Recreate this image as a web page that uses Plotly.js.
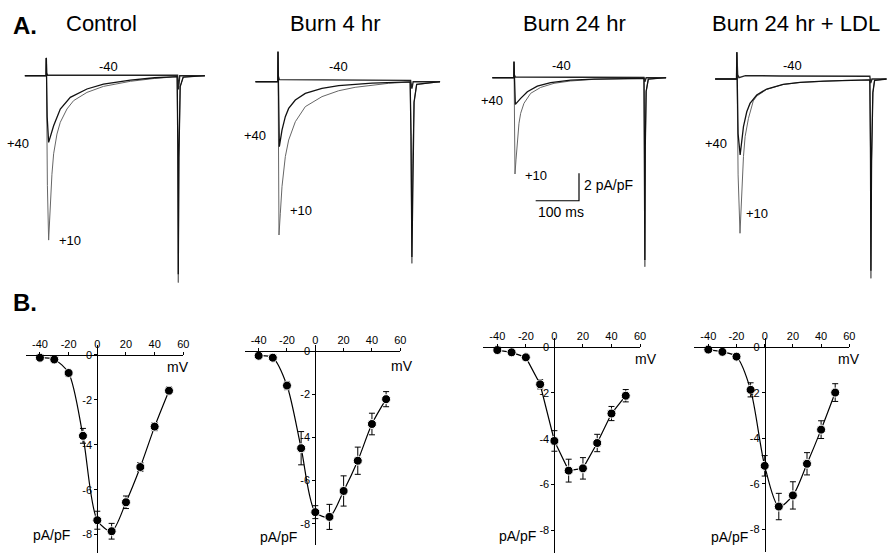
<!DOCTYPE html>
<html>
<head>
<meta charset="utf-8">
<script src="https://cdn.plot.ly/plotly-3.0.1.min.js"></script>
<style>
html,body{margin:0;padding:0;background:#fff;}
#chart{width:888px;height:555px;}
</style>
</head>
<body>
<div id="chart"></div>
<script>
// ---------------- DATA ----------------
// Panel B: I-V relationships (test potential mV vs current density pA/pF)
const voltages = [-40, -30, -20, -10, 0, 10, 20, 30, 40, 50];
const controlI   = [-0.12, -0.2, -0.8, -3.6, -7.36, -7.85, -6.56, -4.99, -3.19, -1.59];
const controlErr = [0, 0, 0.05, 0.33, 0.4, 0.35, 0.28, 0.2, 0.18, 0.17];
const burn4I     = [-0.22, -0.31, -1.6, -4.5, -7.46, -7.68, -6.48, -5.08, -3.38, -2.23];
const burn4Err   = [0, 0, 0.19, 0.77, 0.3, 0.58, 0.7, 0.63, 0.5, 0.35];
const burn24I    = [-0.12, -0.22, -0.44, -1.62, -4.1, -5.4, -5.3, -4.19, -2.9, -2.12];
const burn24Err  = [0, 0, 0.05, 0.2, 0.45, 0.5, 0.47, 0.38, 0.31, 0.27];
const ldlI       = [-0.1, -0.2, -0.41, -1.87, -5.21, -7.0, -6.51, -5.12, -3.62, -1.99];
const ldlErr     = [0, 0, 0.05, 0.31, 0.45, 0.58, 0.6, 0.49, 0.39, 0.39];

const xTickVals = [-40, -20, 0, 20, 40, 60];
const yTickVals = [0, -2, -4, -6, -8];

const panelTitles = ["Control", "Burn 4 hr", "Burn 24 hr", "Burn 24 hr + LDL"];
const traceLabels = ["-40", "+40", "+10"];

// Panel A: current traces (time ms, current pA/pF)
// Control
const ctrlM40T = [-50, -0.5, 0, 0.8, 3, 50, 150, 250, 303, 305, 308, 366];
const ctrlM40I = [0, 0, 1.3, 0.2, 0.03, 0.03, 0.04, 0.04, 0.03, -1.0, 0, 0];
const ctrlP40T = [-50, -0.5, 0, 0.8, 2, 5.4, 16.9, 32.3, 55.4, 93.8, 132, 194, 250, 302, 303.5, 304.6, 306, 309, 316, 366];
const ctrlP40I = [0, 0, 1.3, 0, -3, -4.87, -3.65, -2.43, -1.58, -0.97, -0.61, -0.32, -0.15, -0.07, -5, -14.5, -6, -0.8, -0.1, 0];
const ctrlP10T = [-50, -0.5, 0, 0.8, 2.5, 5.4, 9.2, 13, 16.9, 24.6, 32.3, 47.7, 63, 93.8, 132, 194, 250, 302, 303.5, 304.6, 306, 309, 316, 366];
const ctrlP10I = [0, 0, 1.3, -2, -8, -12.0, -9.1, -7.2, -5.7, -4.26, -3.4, -2.43, -1.82, -1.22, -0.78, -0.41, -0.2, -0.07, -5, -15.1, -6, -0.8, -0.1, 0];
// Burn 4 hr
const b4M40T = [-52, -0.5, 0, 0.8, 3, 50, 150, 250, 306, 309, 312, 374];
const b4M40I = [0, 0, 2.19, 0.4, 0.15, 0.15, 0.15, 0.12, 0.1, -0.5, 0, 0];
const b4P40T = [-52, -0.5, 0, 0.8, 2, 3.1, 9.2, 16.9, 24.6, 40, 63, 101.5, 140, 178, 217, 305, 307, 309, 311, 314, 320, 374];
const b4P40I = [0, 0, 2.19, 0, -3, -4.74, -3.53, -2.55, -1.95, -1.34, -0.85, -0.49, -0.29, -0.17, -0.1, -0.02, -4, -12.8, -6, -1.5, -0.2, 0];
const b4P10T = [-52, -0.5, 0, 0.8, 2.3, 5.4, 9.2, 16.9, 24.6, 40, 63, 101.5, 140, 178, 217, 255, 305, 307, 309, 311, 314, 320, 374];
const b4P10I = [0, 0, 2.19, -3, -11.19, -9.6, -7.66, -5.47, -4.26, -2.92, -1.82, -1.09, -0.66, -0.41, -0.24, -0.12, -0.02, -4, -13.26, -6, -1.5, -0.2, 0];
// Burn 24 hr
const b24M40T = [-50, -0.5, 0, 0.8, 3, 100, 200, 300, 302, 305, 351];
const b24M40I = [0, 0, 1.17, 0.2, 0.05, 0.03, 0.02, 0.02, -0.3, 0, 0];
const b24P40T = [-50, -0.5, 0, 0.8, 3.1, 15.4, 30.8, 53.8, 84.6, 130.7, 184.6, 300, 301, 302, 303, 305, 310, 351];
const b24P40I = [0, 0, 1.17, -0.5, -1.95, -1.51, -1.02, -0.61, -0.36, -0.17, -0.1, -0.05, -4, -13.3, -5, -1, -0.1, 0];
const b24P10T = [-50, -0.5, 0, 0.8, 2.3, 4.6, 7.7, 11.5, 15.4, 23, 38.5, 61.5, 92.3, 130.7, 184.6, 300, 301, 302, 303, 305, 310, 351];
const b24P10I = [0, 0, 1.17, -3, -7.03, -6.0, -4.55, -3.33, -2.6, -1.87, -1.14, -0.71, -0.41, -0.24, -0.12, -0.05, -4, -13.8, -5, -1, -0.1, 0];
// Burn 24 hr + LDL
const ldlM40T = [-50, -0.5, 0, 0.8, 2, 5, 20, 100, 200, 307, 309, 312, 346];
const ldlM40I = [0, 0, 1.95, 0.6, 0.3, 0.1, 0.25, 0.22, 0.2, 0.2, -0.3, 0, 0];
const ldlP40T = [-50, -0.5, 0, 0.8, 3, 7.7, 15.4, 23, 30.5, 46, 69, 107, 146, 200, 250, 307, 308.5, 309.5, 311, 314, 318, 346];
const ldlP40I = [0, 0, 1.95, -1, -4, -5.55, -3.48, -2.39, -1.78, -1.17, -0.73, -0.39, -0.24, -0.15, -0.1, -0.07, -5, -14.0, -6, -1, -0.1, 0];
const ldlP10T = [-50, -0.5, 0, 0.8, 3, 7.4, 11.3, 15.4, 19.2, 26.9, 38, 46, 69, 107, 146, 200, 250, 307, 308.5, 309.5, 311, 314, 318, 346];
const ldlP10I = [0, 0, 1.95, -2, -7, -11.26, -8.1, -5.67, -4.2, -2.87, -1.6, -1.25, -0.76, -0.4, -0.25, -0.15, -0.1, -0.07, -5, -14.55, -6, -1, -0.1, 0];

// Scale bar sizes
const scaleMs = 100;
const scalePA = 2;

// ---------------- LAYOUT GEOMETRY ----------------
const W = 888, H = 555;
const FONT = "Liberation Sans, Arial, Helvetica, sans-serif";
const pxPerMs = 0.4333, pxPerPA = 13.7;

const aGeom = [
  {step: 46.3, base: 75.7, t: [-50, 368], i: [-16, 3]},
  {step: 278,  base: 81.7, t: [-55, 378], i: [-16, 3]},
  {step: 514,  base: 77.7, t: [-55, 355], i: [-16, 3]},
  {step: 736.8, base: 79,  t: [-55, 346], i: [-16, 3]}
];
const bGeom = [
  {x0: 97.3,  sx: 1.434, y0: 355,   sy: 22.45, yr: [-8.8, 0.45]},
  {x0: 315.3, sx: 1.416, y0: 351,   sy: 21.6,  yr: [-9.0, 0.3]},
  {x0: 554.4, sx: 1.427, y0: 347.3, sy: 22.84, yr: [-9.0, 0.4]},
  {x0: 764.7, sx: 1.41,  y0: 347.3, sy: 22.75, yr: [-9.0, 0.4]}
];
const bXRange = [-50, 60];

const layout = {
  width: W, height: H,
  margin: {l: 0, r: 0, t: 0, b: 0},
  paper_bgcolor: "#fff", plot_bgcolor: "rgba(0,0,0,0)",
  showlegend: false,
  font: {family: FONT, color: "#000"},
  annotations: [], shapes: []
};

const traces = [];
const aData = [
  [[ctrlM40T, ctrlM40I], [ctrlP40T, ctrlP40I], [ctrlP10T, ctrlP10I]],
  [[b4M40T, b4M40I], [b4P40T, b4P40I], [b4P10T, b4P10I]],
  [[b24M40T, b24M40I], [b24P40T, b24P40I], [b24P10T, b24P10I]],
  [[ldlM40T, ldlM40I], [ldlP40T, ldlP40I], [ldlP10T, ldlP10I]]
];
const bData = [
  [controlI, controlErr], [burn4I, burn4Err], [burn24I, burn24Err], [ldlI, ldlErr]
];
const bSmooth = [true, true, false, true];

function fx(px) { return px / W; }
function fy(py) { return 1 - py / H; }

for (let p = 0; p < 4; p++) {
  const g = aGeom[p];
  const ax = p + 1, ay = p + 1;
  const xl = g.step + g.t[0] * pxPerMs, xr = g.step + g.t[1] * pxPerMs;
  const yt = g.base - g.i[1] * pxPerPA, yb = g.base - g.i[0] * pxPerPA;
  layout["xaxis" + ax] = {domain: [fx(xl), Math.min(1, fx(xr))], range: g.t, visible: false, anchor: "y" + ay};
  layout["yaxis" + ay] = {domain: [fy(yb), fy(yt)], range: g.i, visible: false, anchor: "x" + ax};
  const d = aData[p];
  traces.push({x: d[0][0], y: d[0][1], xaxis: "x" + ax, yaxis: "y" + ay, mode: "lines",
    line: {color: "#222", width: 1.4}, hoverinfo: "skip"});
  traces.push({x: d[2][0], y: d[2][1], xaxis: "x" + ax, yaxis: "y" + ay, mode: "lines",
    line: {color: "#666", width: 1}, hoverinfo: "skip"});
  traces.push({x: d[1][0], y: d[1][1], xaxis: "x" + ax, yaxis: "y" + ay, mode: "lines",
    line: {color: "#111", width: 1.3}, hoverinfo: "skip"});

  const b = bGeom[p];
  const bx = p + 5, by = p + 5;
  const bxl = b.x0 + bXRange[0] * b.sx, bxr = b.x0 + bXRange[1] * b.sx;
  const byt = b.y0 - b.yr[1] * b.sy, byb = b.y0 - b.yr[0] * b.sy;
  layout["xaxis" + bx] = {
    domain: [fx(bxl), fx(bxr)], range: bXRange, anchor: "free", position: fy(b.y0), side: "top",
    showline: true, linecolor: "#000", linewidth: 1, ticks: "outside", ticklen: 3, tickcolor: "#000",
    tickvals: xTickVals, ticktext: xTickVals.map(String), tickfont: {size: 11, family: FONT},
    showgrid: false, zeroline: false, fixedrange: true
  };
  layout["yaxis" + by] = {
    domain: [fy(byb), fy(byt)], range: b.yr, anchor: "free", position: fx(b.x0), side: "left",
    showline: true, linecolor: "#000", linewidth: 1, ticks: "outside", ticklen: 3, tickcolor: "#000",
    tickvals: yTickVals, ticktext: yTickVals.map(String), tickfont: {size: 11, family: FONT},
    showgrid: false, zeroline: false, fixedrange: true
  };
  traces.push({x: voltages, y: bData[p][0], xaxis: "x" + bx, yaxis: "y" + by, mode: "lines",
    line: {color: "#000", width: 1.2, shape: bSmooth[p] ? "spline" : "linear", smoothing: 0.8},
    hoverinfo: "skip", cliponaxis: false});
  traces.push({x: voltages, y: bData[p][0], xaxis: "x" + bx, yaxis: "y" + by, mode: "markers",
    marker: {color: "#000", size: 9, line: {color: "#fff", width: 1}},
    error_y: {type: "data", array: bData[p][1], visible: true, color: "#000", thickness: 1, width: 3},
    cliponaxis: false});

  const titleX = [101.7, 335.3, 574, 796][p];
  layout.annotations.push({text: panelTitles[p], xref: "paper", yref: "paper", x: fx(titleX), y: fy(23.3),
    xanchor: "center", yanchor: "middle", showarrow: false, font: {size: 22, family: FONT, color: "#000"}});

  const mvPos = [[178.3, 367.3], [402, 366], [645.7, 359.3], [848.7, 359.3]][p];
  const paPos = [[51.7, 535], [278.7, 536.7], [517.3, 536], [729.3, 536.7]][p];
  layout.annotations.push({text: "mV", xref: "paper", yref: "paper", x: fx(mvPos[0]), y: fy(mvPos[1]),
    xanchor: "center", yanchor: "middle", showarrow: false, font: {size: 14, family: FONT, color: "#000"}});
  layout.annotations.push({text: "pA/pF", xref: "paper", yref: "paper", x: fx(paPos[0]), y: fy(paPos[1]),
    xanchor: "center", yanchor: "middle", showarrow: false, font: {size: 14, family: FONT, color: "#000"}});

  const lab = [
    [[108, 66.7], [18.3, 143.3], [70, 240]],
    [[338, 66], [255.3, 136], [301.3, 210]],
    [[561.3, 65.7], [492.3, 100.7], [535.7, 175]],
    [[792, 65.7], [716, 143.3], [757, 213.3]]
  ][p];
  for (let k = 0; k < 3; k++) {
    layout.annotations.push({text: traceLabels[k], xref: "paper", yref: "paper", x: fx(lab[k][0]), y: fy(lab[k][1]),
      xanchor: "center", yanchor: "middle", showarrow: false, font: {size: 13, family: FONT, color: "#000"}});
  }
}

const sbT = 150, sbI = -8.98;
traces.push({x: [sbT - scaleMs, sbT, sbT], y: [sbI, sbI, sbI + scalePA], xaxis: "x3", yaxis: "y3",
  mode: "lines", line: {color: "#000", width: 1.2}, hoverinfo: "skip"});
layout.annotations.push({text: scalePA + " pA/pF", xref: "paper", yref: "paper", x: fx(608), y: fy(185),
  xanchor: "center", yanchor: "middle", showarrow: false, font: {size: 14, family: FONT, color: "#000"}});
layout.annotations.push({text: scaleMs + " ms", xref: "paper", yref: "paper", x: fx(560.7), y: fy(211.7),
  xanchor: "center", yanchor: "middle", showarrow: false, font: {size: 14, family: FONT, color: "#000"}});

layout.annotations.push({text: "<b>A.</b>", xref: "paper", yref: "paper", x: fx(25), y: fy(25.5),
  xanchor: "center", yanchor: "middle", showarrow: false, font: {size: 24, family: FONT, color: "#000"}});
layout.annotations.push({text: "<b>B.</b>", xref: "paper", yref: "paper", x: fx(25), y: fy(302),
  xanchor: "center", yanchor: "middle", showarrow: false, font: {size: 24, family: FONT, color: "#000"}});

Plotly.newPlot("chart", traces, layout, {staticPlot: true, displayModeBar: false});
</script>
</body>
</html>
